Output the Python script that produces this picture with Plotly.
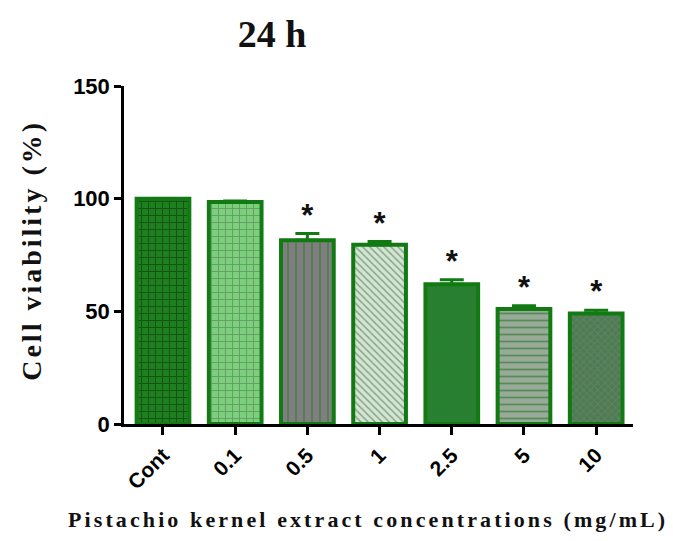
import plotly.graph_objects as go

# Cell viability after 24 h of exposure to pistachio kernel extract
categories = ["Cont", "0.1", "0.5", "1", "2.5", "5", "10"]
viability = [100, 98.5, 81.5, 79.5, 62, 51, 49]
sem = [0, 0.5, 3, 1.5, 2, 1.5, 1.5]
significant = [False, False, True, True, True, True, True]

y_ticks = [0, 50, 100, 150]

outline = "#127a12"
fill_colors = ["#1e7f1e", "#7ccf7c", "#7f7f7f", "#cfe8cf", "#20852a", "#98aa98", "#4a7d50"]
pattern_shapes = ["+", "+", "|", "\\", "x", "-", "x"]
pattern_fg = ["#0a2a0a", "#4b6b4b", "#1a7a1a", "#555555", "#4a6a4a", "#1a6a1a", "#808080"]
pattern_size = [7, 7, 8, 5, 5, 7, 5]
pattern_solidity = [0.28, 0.25, 0.2, 0.3, 0.4, 0.25, 0.35]

BAR_WIDTH = 0.73

fig = go.Figure()

# solid fill underneath
fig.add_trace(go.Bar(
    x=categories,
    y=viability,
    marker=dict(color=fill_colors, line=dict(width=0)),
    width=BAR_WIDTH,
    showlegend=False,
    hoverinfo="skip",
))

# hatch texture, outline and error bars on top
fig.add_trace(go.Bar(
    x=categories,
    y=viability,
    marker=dict(
        color="rgba(0,0,0,0)",
        line=dict(color=outline, width=4),
        pattern=dict(
            shape=pattern_shapes,
            bgcolor="rgba(0,0,0,0)",
            fgcolor=pattern_fg,
            size=pattern_size,
            solidity=pattern_solidity,
            fillmode="overlay",
        ),
    ),
    error_y=dict(
        type="data",
        symmetric=False,
        array=sem,
        arrayminus=[0] * len(sem),
        color=outline,
        thickness=3,
        width=12,
    ),
    width=BAR_WIDTH,
    showlegend=False,
))

# significance markers above the error bars
star_x = [c for c, s in zip(categories, significant) if s]
star_y = [v + e for v, e, s in zip(viability, sem, significant) if s]
fig.add_trace(go.Scatter(
    x=star_x,
    y=star_y,
    mode="text",
    text=["*"] * len(star_x),
    textposition="top center",
    textfont=dict(family="Liberation Sans", size=31, color="#111111", weight="bold"),
    showlegend=False,
    hoverinfo="skip",
))

fig.update_layout(
    width=673,
    height=541,
    margin=dict(l=124, r=40, t=86, b=117),
    barmode="overlay",
    paper_bgcolor="white",
    plot_bgcolor="white",
    title=dict(
        text="<b>24 h</b>",
        x=272 / 673,
        xanchor="center",
        y=1 - 34 / 541,
        yanchor="middle",
        font=dict(family="Liberation Serif", size=38, color="#111111"),
    ),
    xaxis=dict(
        range=[-0.54, 6.51],
        showline=True,
        linecolor="black",
        linewidth=2.5,
        ticks="outside",
        ticklen=8,
        tickwidth=2.5,
        tickcolor="black",
        tickangle=-45,
        tickfont=dict(family="Liberation Sans", size=21, color="black", weight="bold"),
        showgrid=False,
        zeroline=False,
    ),
    yaxis=dict(
        range=[0, 150],
        tickvals=y_ticks,
        showline=True,
        linecolor="black",
        linewidth=2.5,
        ticks="outside",
        ticklen=7,
        tickwidth=2.5,
        tickcolor="black",
        tickfont=dict(family="Liberation Sans", size=22, color="black", weight="bold"),
        showgrid=False,
        zeroline=False,
    ),
    annotations=[
        dict(
            text='<span style="letter-spacing:3.1px"><b>Pistachio kernel extract concentrations (mg/mL)</b></span>',
            xref="paper", yref="paper",
            x=0.479, y=-0.284,
            xanchor="center", yanchor="middle",
            showarrow=False,
            font=dict(family="Liberation Serif", size=22, color="#111111"),
        ),
        dict(
            text='<span style="letter-spacing:3px"><b>Cell viability (%)</b></span>',
            xref="paper", yref="paper",
            x=-0.181, y=0.515,
            xanchor="center", yanchor="middle",
            textangle=-90,
            showarrow=False,
            font=dict(family="Liberation Serif", size=28, color="#111111"),
        ),
    ],
)

fig.write_html("out.html")
